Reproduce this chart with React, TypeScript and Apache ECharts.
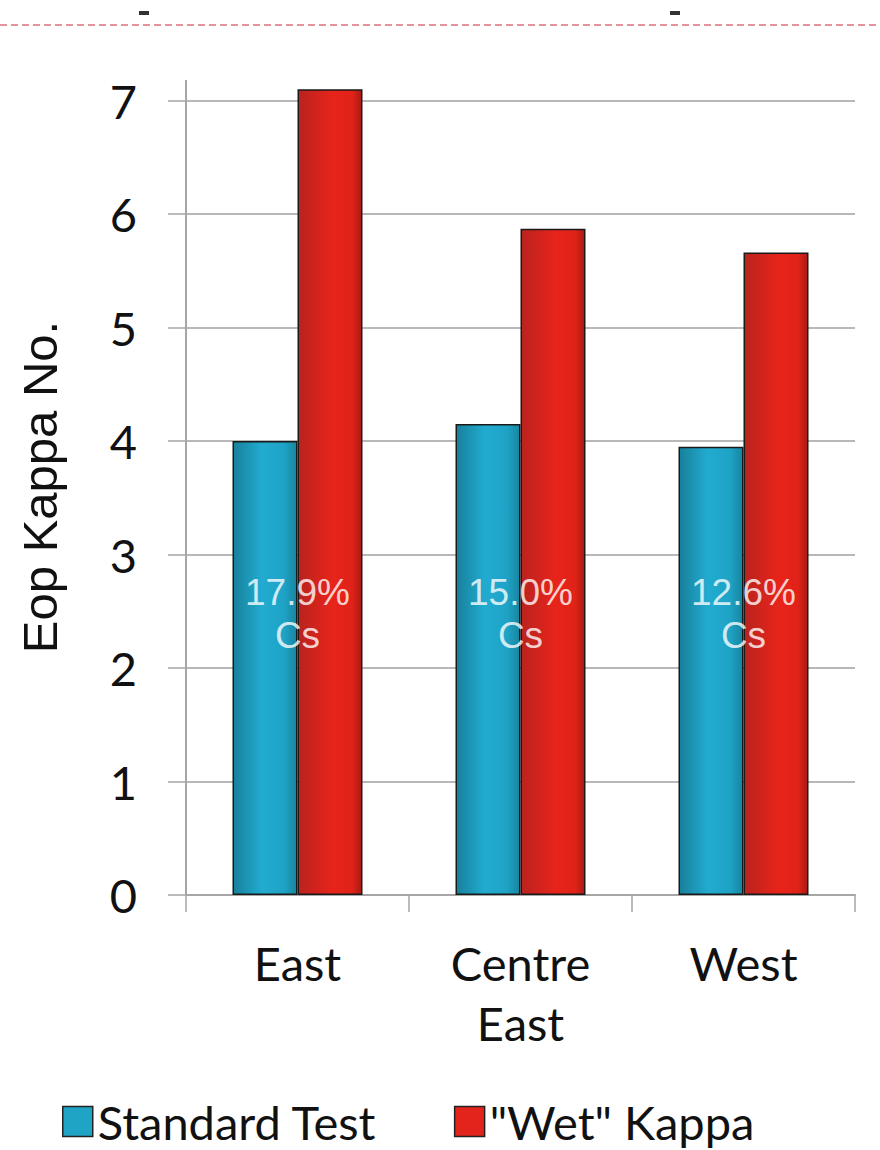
import React, { useEffect, useRef } from "react";
import * as echarts from "echarts";

const categories = ["East", "Centre East", "West"];
const standardTest = [4.0, 4.15, 3.95];
const wetKappa = [7.1, 5.87, 5.66];
const csLabels = ["17.9%\nCs", "15.0%\nCs", "12.6%\nCs"];
const yTicks = [0, 1, 2, 3, 4, 5, 6, 7];
const seriesNames = ["Standard Test", "\"Wet\" Kappa"];
const LABEL_LEVEL = 2.48;

export default function App() {
  const ref = useRef<HTMLDivElement>(null);
  useEffect(() => {
    document.body.style.margin = "0";
    if (!ref.current) return;
    const chart = echarts.init(ref.current, undefined, { renderer: "svg" });
    const blueGrad = new echarts.graphic.LinearGradient(0, 0, 1, 0, [
      { offset: 0, color: "#17809b" },
      { offset: 0.45, color: "#22abd0" },
      { offset: 0.8, color: "#1ea3c6" },
      { offset: 1, color: "#17859f" },
    ]);
    const redGrad = new echarts.graphic.LinearGradient(0, 0, 1, 0, [
      { offset: 0, color: "#b9231f" },
      { offset: 0.55, color: "#e8241a" },
      { offset: 0.85, color: "#e02218" },
      { offset: 1, color: "#a81a14" },
    ]);
    const gillLike = "Lato, 'Open Sans', sans-serif";
    chart.setOption({
      animation: false,
      backgroundColor: "#ffffff",
      grid: { left: 186, right: 25, top: 100.5, bottom: 255, containLabel: false },
      legend: {
        left: 57,
        top: 1093,
        itemWidth: 30,
        itemHeight: 30,
        itemGap: 77,
        icon: "rect",
        textStyle: { fontFamily: gillLike, fontSize: 47, color: "#111" },
        data: [
          { name: seriesNames[0], itemStyle: { color: "#20a4c6", borderColor: "#222", borderWidth: 1.5 } },
          { name: seriesNames[1], itemStyle: { color: "#e3241c", borderColor: "#222", borderWidth: 1.5 } },
        ],
      },
      xAxis: {
        type: "category",
        data: categories,
        axisLine: { show: true, lineStyle: { color: "#a6a6a6", width: 2 } },
        axisTick: { show: true, alignWithLabel: false, length: 17, lineStyle: { color: "#a6a6a6", width: 1.5 } },
        axisLabel: {
          fontFamily: gillLike,
          fontSize: 47,
          color: "#111",
          lineHeight: 60,
          margin: 38,
          interval: 0,
          formatter: (v: string) => v.replace(" ", "\n"),
        },
      },
      yAxis: {
        type: "value",
        min: yTicks[0],
        max: yTicks[yTicks.length - 1],
        interval: 1,
        axisLine: { show: true, lineStyle: { color: "#a6a6a6", width: 2 } },
        axisTick: { show: true, inside: false, length: 18, lineStyle: { color: "#a6a6a6", width: 1.5 } },
        splitLine: { show: true, lineStyle: { color: "#a0a0a0", width: 1.5 } },
        axisLabel: { fontFamily: gillLike, fontSize: 47, color: "#111", margin: 49 },
      },
      series: [
        {
          name: seriesNames[0],
          type: "bar",
          data: standardTest,
          barWidth: 65,
          barGap: "0%",
          clip: false,
          itemStyle: { color: blueGrad, borderColor: "#1a1a1a", borderWidth: 1.5 },
        },
        {
          name: seriesNames[1],
          type: "bar",
          data: wetKappa,
          barWidth: 65,
          barGap: "0%",
          clip: false,
          itemStyle: { color: redGrad, borderColor: "#1a1a1a", borderWidth: 1.5 },
        },
        {
          name: "labels",
          type: "scatter",
          data: csLabels.map(() => LABEL_LEVEL),
          symbolSize: 0,
          silent: true,
          z: 10,
          label: {
            show: true,
            position: "inside",
            formatter: (p: any) => csLabels[p.dataIndex],
            fontFamily: "'Liberation Sans', Arial, sans-serif",
            fontSize: 37,
            lineHeight: 43,
            color: "#ffffff",
          },
        },
      ],
      graphic: [
        {
          type: "line",
          shape: { x1: 0, y1: 25, x2: 880, y2: 25 },
          style: { stroke: "#d9707c", lineWidth: 1.5, lineDash: [7, 4] },
        },
        { type: "rect", shape: { x: 139, y: 11, width: 10, height: 4 }, style: { fill: "#333" } },
        { type: "rect", shape: { x: 670, y: 11, width: 10, height: 4 }, style: { fill: "#333" } },
        {
          type: "line",
          shape: { x1: 186, y1: 80, x2: 186, y2: 101 },
          style: { stroke: "#a6a6a6", lineWidth: 2 },
        },
        {
          type: "text",
          x: 40,
          y: 487,
          rotation: Math.PI / 2,
          style: {
            text: "Eop Kappa No.",
            fontFamily: "'Liberation Sans', Arial, sans-serif",
            fontSize: 49,
            fill: "#111",
            align: "center",
            verticalAlign: "middle",
          },
        },
      ],
    });
    return () => chart.dispose();
  }, []);
  return <div ref={ref} style={{ width: 880, height: 1150 }} />;
}
